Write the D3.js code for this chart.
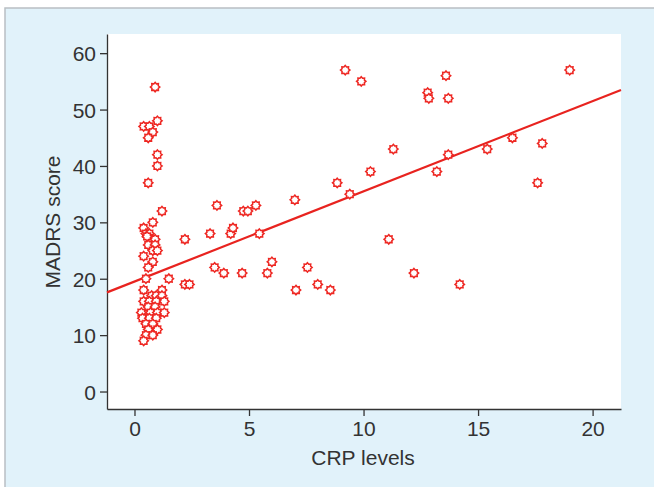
<!DOCTYPE html>
<html>
<head>
<meta charset="utf-8">
<script src="https://cdn.jsdelivr.net/npm/d3@7"></script>
<style>
  body { margin: 0; background: #ffffff; }
  svg { display: block; font-family: "Liberation Sans", Arial, sans-serif; }
</style>
</head>
<body>
<svg id="chart" width="654" height="487"></svg>
<script>
// CRP level (x) and MADRS score (y) of each subject
const crp = [
  0.9, 1.0, 0.4, 0.65, 0.8, 0.6, 1.0, 1.0, 0.6, 1.2,
  0.8, 0.4, 0.5, 0.65, 0.75, 0.9, 0.55, 0.6, 0.9, 0.8,
  1.0, 0.4, 0.8, 0.6, 0.5, 1.5, 0.4, 1.2, 0.75, 0.95,
  1.2, 0.4, 0.65, 0.95, 1.3, 0.6, 0.9, 0.3, 0.7, 1.0,
  1.3, 0.35, 0.65, 0.95, 0.5, 0.8, 0.6, 1.0, 0.5, 0.8,
  0.4,
  2.2, 3.3, 3.6, 4.2, 4.3, 4.75, 4.95, 5.3, 5.45, 7.0,
  2.2, 2.4, 3.5, 3.9, 4.7, 5.8, 6.0, 7.55, 7.05, 8.0,
  8.55, 8.85, 9.4, 9.2, 9.9, 10.3, 11.1, 11.3, 12.2, 12.8,
  12.85, 13.2, 13.6, 13.7, 13.7, 14.2, 15.4, 16.5, 17.6, 17.8,
  19.0
];
const madrs = [
  54, 48, 47, 47, 46, 45, 42, 40, 37, 32,
  30, 29, 28, 28, 27, 27, 27.5, 26, 26, 25,
  25, 24, 23, 22, 20, 20, 18, 18, 17, 17,
  17, 16, 16, 16, 16, 15, 15, 14, 14, 14,
  14, 13, 13, 13, 12, 12, 11, 11, 10, 10,
  9,
  27, 28, 33, 28, 29, 32, 32, 33, 28, 34,
  19, 19, 22, 21, 21, 21, 23, 22, 18, 19,
  18, 37, 35, 57, 55, 39, 27, 43, 21, 53,
  52, 39, 56, 52, 42, 19, 43, 45, 37, 44,
  57
];

// fitted regression line: MADRS = intercept + slope * CRP
const fitIntercept = 19.5;
const fitSlope = 1.6;

const xTicks = [0, 5, 10, 15, 20];
const yTicks = [0, 10, 20, 30, 40, 50, 60];
const xTitle = "CRP levels";
const yTitle = "MADRS score";

const points = crp.map((c, i) => ({ x: c, y: madrs[i] }));

const svg = d3.select("#chart");
const fontSize = "21px";

// light blue panel behind the figure
svg.append("rect")
    .attr("x", 5).attr("y", 8)
    .attr("width", 660).attr("height", 490)
    .attr("fill", "#e1f2fa")
    .attr("stroke", "#b9bfc3")
    .attr("stroke-width", 1.5);

const plot = { left: 107, top: 34, right: 621, bottom: 409 };

const x = d3.scaleLinear().domain([-1.2, 21.24]).range([plot.left, plot.right]);
const y = d3.scaleLinear().domain([-3.1, 63.4]).range([plot.bottom, plot.top]);

svg.append("rect")
    .attr("x", plot.left).attr("y", plot.top)
    .attr("width", plot.right - plot.left)
    .attr("height", plot.bottom - plot.top)
    .attr("fill", "#ffffff");

// axes
const axisColor = "#333333";

const gx = svg.append("g")
    .attr("transform", `translate(0,${plot.bottom})`)
    .call(d3.axisBottom(x).tickValues(xTicks).tickSize(7).tickPadding(5).tickSizeOuter(0));

const gy = svg.append("g")
    .attr("transform", `translate(${plot.left},0)`)
    .call(d3.axisLeft(y).tickValues(yTicks).tickSize(7).tickPadding(4).tickSizeOuter(0));

[gx, gy].forEach(g => {
    g.select(".domain").attr("stroke", axisColor).attr("stroke-width", 1.3);
    g.selectAll(".tick line").attr("stroke", axisColor).attr("stroke-width", 1.3);
    g.selectAll(".tick text")
        .attr("fill", axisColor)
        .style("font-size", fontSize)
        .style("font-family", "'Liberation Sans', Arial, sans-serif");
});
gy.selectAll(".tick text").attr("dy", "0.36em");

// regression line over the full plot width
const lineX = x.domain();
svg.append("line")
    .attr("x1", x(lineX[0])).attr("y1", y(fitIntercept + fitSlope * lineX[0]))
    .attr("x2", x(lineX[1])).attr("y2", y(fitIntercept + fitSlope * lineX[1]))
    .attr("stroke", "#e8231f")
    .attr("stroke-width", 2.2);

// gear shaped marker
function gearPath(ro, ri, n) {
    const pts = [];
    for (let k = 0; k < n * 2; k++) {
        const a = Math.PI * k / n - Math.PI / 2;
        const r = k % 2 === 0 ? ro : ri;
        pts.push([r * Math.cos(a), r * Math.sin(a)]);
    }
    return "M" + pts.map(p => p[0].toFixed(2) + "," + p[1].toFixed(2)).join("L") + "Z";
}
const marker = gearPath(4.7, 3.4, 8);

svg.append("g")
    .selectAll("path")
    .data(points)
    .join("path")
    .attr("d", marker)
    .attr("transform", d => `translate(${x(d.x)},${y(d.y)})`)
    .attr("fill", "#ffffff")
    .attr("stroke", "#ee2722")
    .attr("stroke-width", 1.5);

// axis titles
svg.append("text")
    .attr("x", (plot.left + plot.right) / 2 - 1)
    .attr("y", 465)
    .attr("text-anchor", "middle")
    .attr("fill", axisColor)
    .style("font-size", fontSize)
    .text(xTitle);

svg.append("text")
    .attr("transform", `translate(60,${(plot.top + plot.bottom) / 2 + 0.5}) rotate(-90)`)
    .attr("text-anchor", "middle")
    .attr("fill", axisColor)
    .style("font-size", fontSize)
    .text(yTitle);
</script>
</body>
</html>
